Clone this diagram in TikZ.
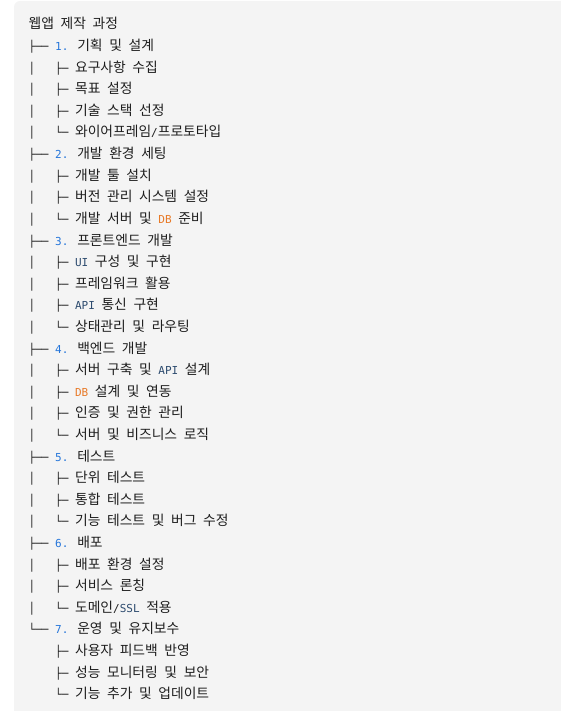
\documentclass[tikz,border=0pt]{standalone}
\usepackage{fontspec}
\setmainfont{DejaVu Sans Mono}
\newfontfamily\krfont{Noto Sans CJK KR}
\definecolor{fond}{RGB}{244,244,244}
\definecolor{encre}{RGB}{30,30,30}
\definecolor{numero}{RGB}{38,118,218}
\definecolor{sigle}{RGB}{44,74,110}
\definecolor{orange}{RGB}{232,122,40}
\newcommand{\kr}[1]{{\krfont\fontsize{13.8}{16}\selectfont\fontdimen2\font=6.62pt\relax#1}}
\newcommand{\num}[1]{\textcolor{numero}{#1}}
\newcommand{\sig}[1]{\textcolor{sigle}{#1}}
\newcommand{\ora}[1]{\textcolor{orange}{#1}}
\newcommand{\tige}{│\ \ \ }
\newcommand{\vide}{\ \ \ \ }

\begin{document}
\begin{tikzpicture}[x=1pt,y=-1pt,
    ligne/.style={anchor=base west,inner sep=0pt,outer sep=0pt,text=encre,
      font=\fontsize{11}{13}\selectfont}]
    \useasboundingbox (0,0) rectangle (560,711);
    % Fond du bloc
    \fill[fond,rounded corners=6pt] (14,1) rectangle (580,730);
    % Titre
    \node[ligne] (titre) at (28.7,29) {\kr{웹앱 제작 과정}};
    % Arborescence
    \foreach \txt [count=\i] in {
      {├── \num{1.} \kr{기획 및 설계}},
      {\tige├─ \kr{요구사항 수집}},
      {\tige├─ \kr{목표 설정}},
      {\tige├─ \kr{기술 스택 선정}},
      {\tige└─ \kr{와이어프레임}/\kr{프로토타입}},
      {├── \num{2.} \kr{개발 환경 세팅}},
      {\tige├─ \kr{개발 툴 설치}},
      {\tige├─ \kr{버전 관리 시스템 설정}},
      {\tige└─ \kr{개발 서버 및} \ora{DB} \kr{준비}},
      {├── \num{3.} \kr{프론트엔드 개발}},
      {\tige├─ \sig{UI} \kr{구성 및 구현}},
      {\tige├─ \kr{프레임워크 활용}},
      {\tige├─ \sig{API} \kr{통신 구현}},
      {\tige└─ \kr{상태관리 및 라우팅}},
      {├── \num{4.} \kr{백엔드 개발}},
      {\tige├─ \kr{서버 구축 및} \sig{API} \kr{설계}},
      {\tige├─ \ora{DB} \kr{설계 및 연동}},
      {\tige├─ \kr{인증 및 권한 관리}},
      {\tige└─ \kr{서버 및 비즈니스 로직}},
      {├── \num{5.} \kr{테스트}},
      {\tige├─ \kr{단위 테스트}},
      {\tige├─ \kr{통합 테스트}},
      {\tige└─ \kr{기능 테스트 및 버그 수정}},
      {├── \num{6.} \kr{배포}},
      {\tige├─ \kr{배포 환경 설정}},
      {\tige├─ \kr{서비스 론칭}},
      {\tige└─ \kr{도메인}/\sig{SSL} \kr{적용}},
      {└── \num{7.} \kr{운영 및 유지보수}},
      {\vide├─ \kr{사용자 피드백 반영}},
      {\vide├─ \kr{성능 모니터링 및 보안}},
      {\vide└─ \kr{기능 추가 및 업데이트}}}
      \node[ligne] (l\i) at (28.7,29+21.6*\i) {\txt};
\end{tikzpicture}
\end{document}
